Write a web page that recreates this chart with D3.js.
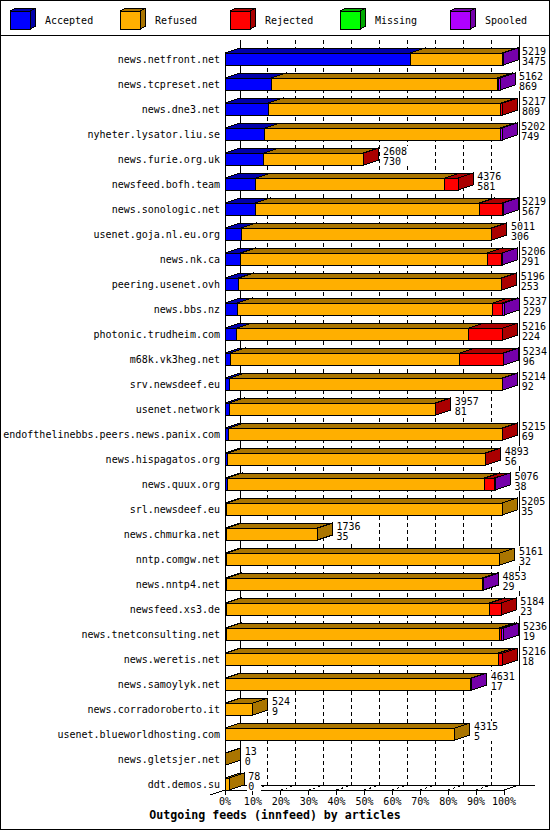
<!DOCTYPE html>
<html><head><meta charset="utf-8">
<script src="https://cdn.jsdelivr.net/npm/d3@7"></script>
<style>
body{margin:0;background:#fff}
svg{display:block}
text{font-family:"DejaVu Sans Mono","Liberation Mono",monospace;fill:#000}
</style>
</head><body>
<svg id="chart" width="550" height="830"></svg>
<script>
const categories = ["news.netfront.net","news.tcpreset.net","news.dne3.net","nyheter.lysator.liu.se","news.furie.org.uk","newsfeed.bofh.team","news.sonologic.net","usenet.goja.nl.eu.org","news.nk.ca","peering.usenet.ovh","news.bbs.nz","photonic.trudheim.com","m68k.vk3heg.net","srv.newsdeef.eu","usenet.network","endofthelinebbs.peers.news.panix.com","news.hispagatos.org","news.quux.org","srl.newsdeef.eu","news.chmurka.net","nntp.comgw.net","news.nntp4.net","newsfeed.xs3.de","news.tnetconsulting.net","news.weretis.net","news.samoylyk.net","news.corradoroberto.it","usenet.blueworldhosting.com","news.gletsjer.net","ddt.demos.su"];
const totals   = [5219,5162,5217,5202,2608,4376,5219,5011,5206,5196,5237,5216,5234,5214,3957,5215,4893,5076,5205,1736,5161,4853,5184,5236,5216,4631,524,4315,13,78];
const accepted = [3475,869,809,749,730,581,567,306,291,253,229,224,96,92,81,69,56,38,35,35,32,29,23,19,18,17,9,5,0,0];
const refused  = [1729,4243,4368,4423,1863,3545,4211,4690,4635,4928,4798,4352,4315,5112,3866,5136,4827,4835,5170,1701,5129,4804,4941,5127,5118,4599,515,4310,13,78];
const rejected = [0,30,40,0,15,250,426,15,270,15,180,640,813,0,10,10,10,188,0,0,0,0,220,40,80,0,0,0,0,0];
const missing  = [0,0,0,0,0,0,0,0,0,0,0,0,0,0,0,0,0,0,0,0,0,0,0,0,0,0,0,0,0,0];
const spooled  = [15,20,0,30,0,0,15,0,10,0,30,0,10,10,0,0,0,15,0,0,0,20,0,50,0,15,0,0,0,0];
const seriesNames  = ["Accepted","Refused","Rejected","Missing","Spooled"];
const seriesColors = ["#0000FF","#FFAF00","#FF0000","#00FF00","#AF00FF"];
const seriesShades = ["#0000AA","#AA7500","#AA0000","#00AA00","#7500AA"];
const tickPercents = [0,10,20,30,40,50,60,70,80,90,100];
const tickLabels   = ["0%","10%","20%","30%","40%","50%","60%","70%","80%","90%","100%"];
const chartTitle = "Outgoing feeds (innfeed) by articles";

const seriesValues = [accepted, refused, rejected, missing, spooled];
const rows = categories.map((c,i)=>{
  const r = {name:c};
  seriesNames.forEach((s,k)=>{ r[s] = seriesValues[k][i]; });
  return r;
});
const stacked = d3.stack().keys(seriesNames)(rows);

const W = 550, H = 830;
const DX = 15, DY = 5, HALF = 6;
const svg = d3.select("#chart").attr("shape-rendering","crispEdges");

const x = d3.scaleLinear().domain([0, d3.max(totals)]).range([225, 504]);
const xp = d3.scaleLinear().domain([0, 100]).range([225, 504]);
const y = d3.scalePoint().domain(categories).range([59, 784]);

// frame
svg.append("rect").attr("x",0.5).attr("y",0.5).attr("width",W-1).attr("height",H-1)
  .attr("fill","#fff").attr("stroke","#000");
svg.append("line").attr("x1",0).attr("x2",W).attr("y1",35.5).attr("y2",35.5).attr("stroke","#000");

// legend
const lg = svg.append("g");
seriesNames.forEach((s,k)=>{
  const lx = 10 + k*110, ly = 11, lw = 20, lh = 18, ldx = 5, ldy = 2.5;
  const g = lg.append("g");
  g.append("polygon").attr("points",[[lx,ly],[lx+ldx,ly-ldy],[lx+lw+ldx,ly-ldy],[lx+lw,ly]].join(" "))
    .attr("fill",seriesShades[k]).attr("stroke","#000");
  g.append("polygon").attr("points",[[lx+lw,ly],[lx+lw+ldx,ly-ldy],[lx+lw+ldx,ly+lh-ldy],[lx+lw,ly+lh]].join(" "))
    .attr("fill",seriesShades[k]).attr("stroke","#000");
  g.append("rect").attr("x",lx).attr("y",ly).attr("width",lw).attr("height",lh)
    .attr("fill",seriesColors[k]).attr("stroke","#000");
  g.append("text").attr("x",lx+35).attr("y",23.5).attr("font-size","10px").text(s);
});

// back plane grid
const gridTop = 40, floorBack = 785, floorFront = 790;
svg.append("line").attr("x1",xp(0)+DX).attr("x2",xp(0)+DX).attr("y1",gridTop).attr("y2",floorBack).attr("stroke","#000");
svg.append("line").attr("x1",xp(100)+DX).attr("x2",xp(100)+DX).attr("y1",35).attr("y2",floorBack).attr("stroke","#000");
tickPercents.filter(p=>p>0 && p<100).forEach(p=>{
  svg.append("line").attr("x1",xp(p)+DX).attr("x2",xp(p)+DX).attr("y1",gridTop).attr("y2",floorBack)
    .attr("stroke","#000").attr("stroke-dasharray","4,3");
});
// floor
svg.append("line").attr("x1",xp(0)).attr("x2",xp(100)+1).attr("y1",floorFront).attr("y2",floorFront).attr("stroke","#000");
svg.append("line").attr("x1",xp(0)+DX).attr("x2",xp(100)+DX+16).attr("y1",floorBack).attr("y2",floorBack).attr("stroke","#000");
svg.append("line").attr("x1",xp(0)-DX).attr("y1",floorFront+DY).attr("x2",xp(0)+DX).attr("y2",floorBack).attr("stroke","#000");
svg.append("line").attr("x1",xp(100)).attr("y1",floorFront).attr("x2",xp(100)+DX).attr("y2",floorBack).attr("stroke","#000");
svg.append("line").attr("x1",xp(0)).attr("x2",xp(0)).attr("y1",y(categories[0])-HALF).attr("y2",floorFront).attr("stroke","#000");
tickPercents.forEach((p,k)=>{
  const tx = xp(p);
  svg.append("line").attr("x1",tx).attr("x2",tx).attr("y1",floorFront).attr("y2",floorFront+5).attr("stroke","#000");
  if (p>0 && p<100) {
    svg.append("line").attr("x1",tx).attr("y1",floorFront).attr("x2",tx+DX).attr("y2",floorBack)
      .attr("stroke","#000").attr("stroke-dasharray","2,3");
  }
  svg.append("text").attr("x",tx).attr("y",805).attr("text-anchor","middle").attr("font-size","10px").text(tickLabels[k]);
});

// bars
categories.forEach((c,i)=>{
  const cy = y(c), top = cy-HALF, bot = cy+HALF;
  const g = svg.append("g");
  stacked.forEach((layer,k)=>{
    const d = layer[i];
    if (d[1]-d[0] <= 0) return;
    const x0 = x(d[0]), x1 = x(d[1]);
    g.append("polygon").attr("points",[[x0,top],[x0+DX,top-DY],[x1+DX,top-DY],[x1,top]].join(" "))
      .attr("fill",seriesShades[k]).attr("stroke","#000");
    g.append("polygon").attr("points",[[x1,top],[x1+DX,top-DY],[x1+DX,bot-DY],[x1,bot]].join(" "))
      .attr("fill",seriesShades[k]).attr("stroke","#000");
    g.append("rect").attr("x",x0).attr("y",top).attr("width",Math.max(0,x1-x0)).attr("height",bot-top)
      .attr("fill",seriesColors[k]).attr("stroke","#000");
  });
  // category label
  svg.append("text").attr("x",220).attr("y",cy+4).attr("text-anchor","end").attr("font-size","10px").text(c);
  // value labels
  const lx = x(totals[i]) + DX + 4;
  const t1 = String(totals[i]), t2 = String(accepted[i]);
  const bw = Math.max(t1.length,t2.length)*6+2;
  svg.append("rect").attr("x",lx-1).attr("y",cy-13).attr("width",bw).attr("height",20).attr("fill","#fff");
  svg.append("text").attr("x",lx).attr("y",cy-4).attr("font-size","10px").text(t1);
  svg.append("text").attr("x",lx).attr("y",cy+6).attr("font-size","10px").text(t2);
});

// title
svg.append("text").attr("x",275).attr("y",819).attr("text-anchor","middle")
  .attr("font-size","11.6px").attr("font-weight","bold").text(chartTitle);
</script>
</body></html>
